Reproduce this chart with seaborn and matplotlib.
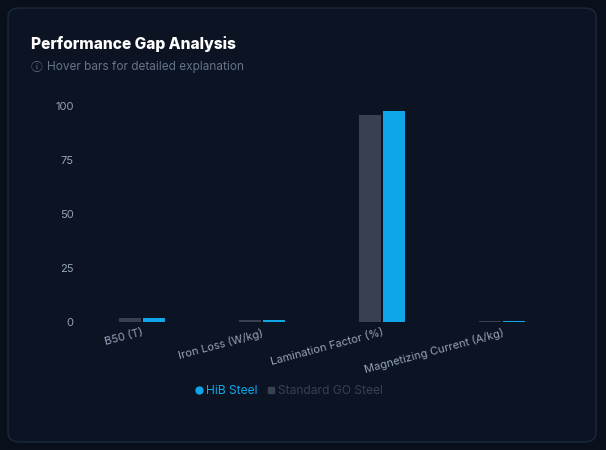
import numpy as np
import pandas as pd
import matplotlib
matplotlib.use("Agg")
import matplotlib.pyplot as plt
from matplotlib.patches import FancyBboxPatch
from matplotlib.lines import Line2D
import seaborn as sns

# ===============================
# DATA
# ===============================
categories = ["B50 (T)", "Iron Loss (W/kg)", "Lamination Factor (%)", "Magnetizing Current (A/kg)"]
standard_go = [1.85, 1.05, 96.0, 0.6]
hib_steel = [1.92, 0.85, 97.5, 0.4]
series_names = ["Standard GO Steel", "HiB Steel"]
y_ticks = [0, 25, 50, 75, 100]

df = pd.DataFrame({
    "metric": categories * 2,
    "value": standard_go + hib_steel,
    "steel": [series_names[0]] * len(categories) + [series_names[1]] * len(categories),
})

# ===============================
# STYLE
# ===============================
BG = "#0a0f1c"
CARD = "#0c1322"
GRAY = "#374151"
BLUE = "#0ea5e9"
TICK = "#94a3b8"

sns.set_theme(style="dark")
plt.rcParams["font.family"] = ["Inter", "DejaVu Sans"]

fig = plt.figure(figsize=(6.06, 4.5), dpi=100)
fig.patch.set_facecolor(BG)

# card background
card = FancyBboxPatch((8 / 606, 8 / 450), 588 / 606, 434 / 450,
                      boxstyle="round,pad=0,rounding_size=0.02",
                      transform=fig.transFigure, facecolor=CARD,
                      edgecolor="#1a2a3a", linewidth=1.0, zorder=-5)
fig.patches.append(card)

ax = fig.add_axes([82 / 606, 1 - 322 / 450, 480 / 606, 216 / 450])
ax.set_facecolor("none")
ax.set_zorder(2)

sns.barplot(data=df, x="metric", y="value", hue="steel",
            hue_order=series_names, palette=[GRAY, BLUE],
            width=0.41, gap=0.11, ax=ax, legend=False,
            saturation=1, linewidth=0)

ax.set_ylim(0, 100)
ax.set_yticks(y_ticks)
ax.set_xlabel("")
ax.set_ylabel("")
ax.grid(False)
for s in ax.spines.values():
    s.set_visible(False)
ax.tick_params(axis="y", colors=TICK, labelsize=8, length=0, pad=6)
ax.tick_params(axis="x", colors=TICK, labelsize=8, length=0, pad=4)
ax.set_xticks(range(len(categories)))
ax.set_xticklabels(categories, rotation=15, ha="right", rotation_mode="anchor")

# title and subtitle
fig.text(31 / 606, 1 - 44 / 450, "Performance Gap Analysis", color="white",
         fontsize=11.2, fontweight="heavy", va="center")
fig.text(31 / 606, 1 - 67 / 450, "ⓘ", color="#64748b", fontsize=8.5,
         va="center", family=["Noto Sans CJK SC", "DejaVu Sans"])
fig.text(47 / 606, 1 - 67 / 450, "Hover bars for detailed explanation",
         color="#64748b", fontsize=8.5, va="center")

# legend
handles = [
    Line2D([], [], marker="o", linestyle="", color=BLUE, markersize=5),
    Line2D([], [], marker="s", linestyle="", color=GRAY, markersize=5),
]
leg = fig.legend(handles, ["HiB Steel", "Standard GO Steel"], loc="center",
                 bbox_to_anchor=(288 / 606, 1 - 391 / 450), ncol=2,
                 frameon=False, fontsize=8.7, handletextpad=0.1,
                 columnspacing=0.6, handlelength=1.0)
leg.get_texts()[0].set_color(BLUE)
leg.get_texts()[1].set_color(GRAY)

fig.savefig("out.png", dpi=100, facecolor=BG)
